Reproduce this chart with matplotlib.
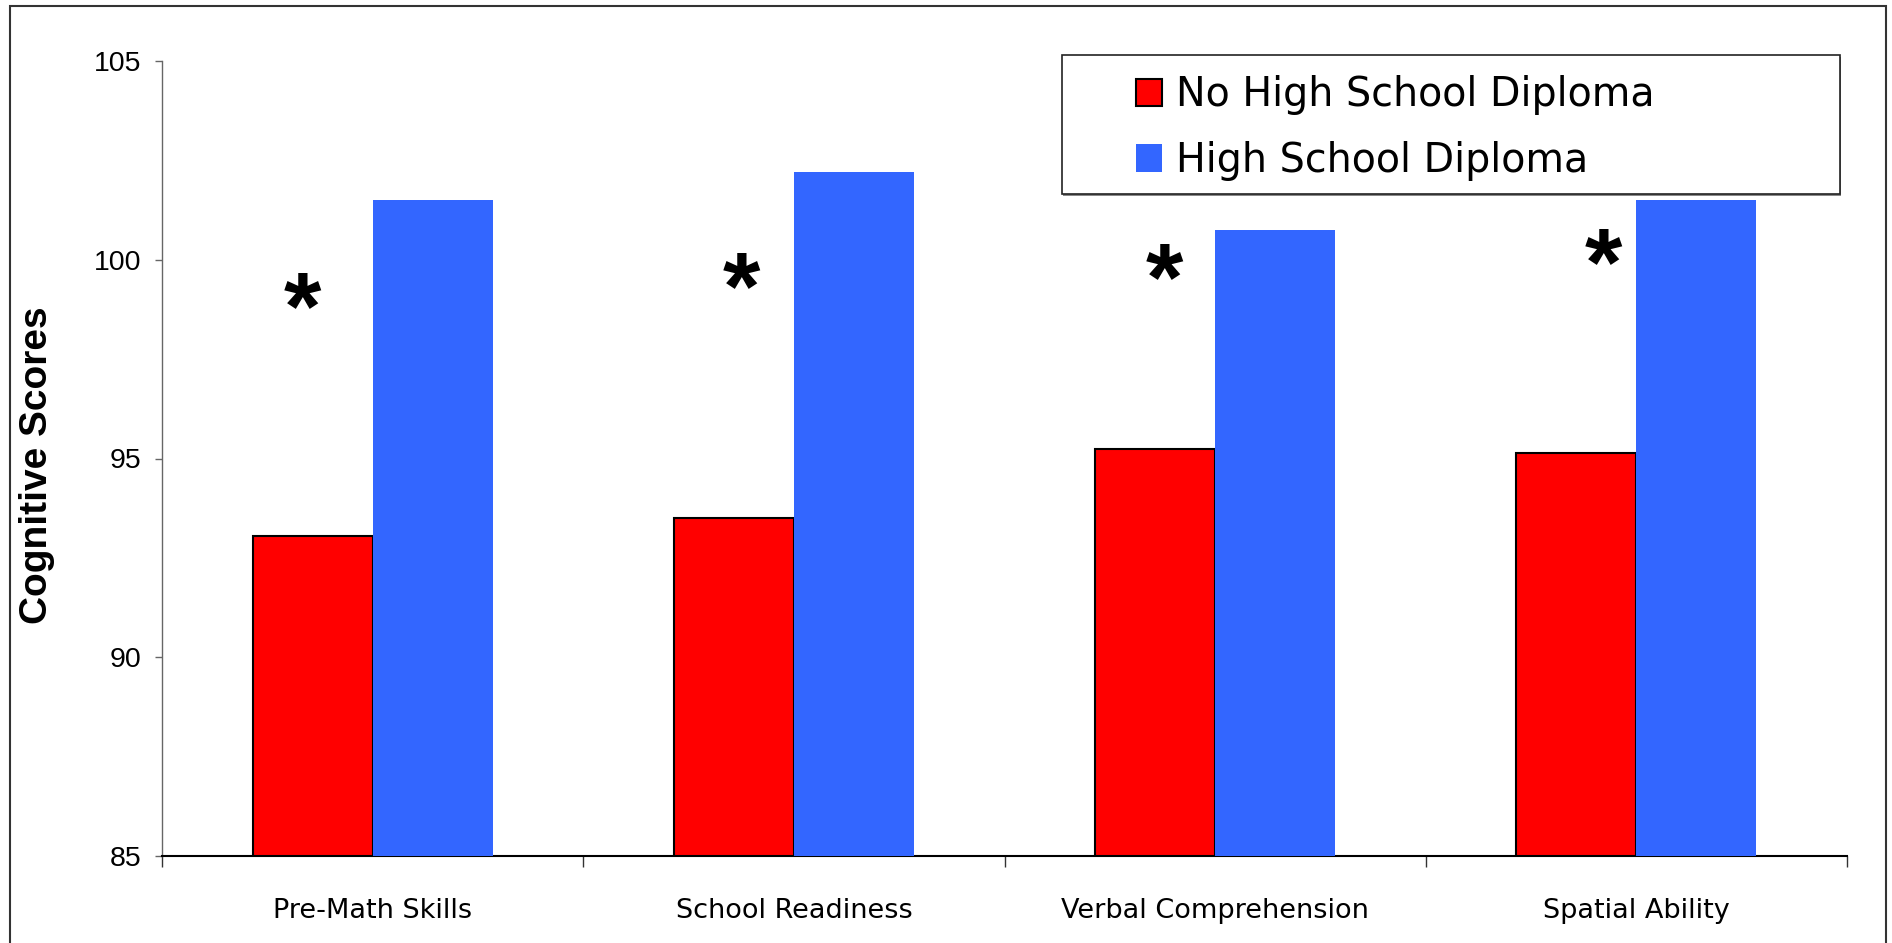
import matplotlib
matplotlib.use("Agg")
import numpy as np
from matplotlib import pyplot as plt
from matplotlib.patches import Rectangle
from matplotlib.textpath import TextPath
from matplotlib.font_manager import FontProperties

categories = ["Pre-Math Skills", "School Readiness", "Verbal Comprehension", "Spatial Ability"]
no_diploma = [93.05, 93.5, 95.25, 95.15]
diploma = [101.5, 102.2, 100.75, 101.5]
series_names = ["No High School Diploma", "High School Diploma"]

W, H = 1892, 943
fig = plt.figure(figsize=(W / 100, H / 100), dpi=100)
# axes box in pixels: left 162, right 1847, top 61, bottom 856
ax = fig.add_axes([162.3 / W, 1 - 856 / H, 1684.4 / W, 795 / H])

x = np.arange(len(categories))
w = 0.2857
ax.bar(x - w / 2, no_diploma, w, color="#FF0000", edgecolor="black", linewidth=1.5,
       label=series_names[0], zorder=2)
ax.bar(x + w / 2, diploma, w, color="#3366FF", linewidth=0, label=series_names[1], zorder=3)

ax.set_xlim(-0.5, 3.5)
ax.set_ylim(85, 105)
ax.set_yticks([85, 90, 95, 100, 105])
ax.set_xticks(np.arange(-0.5, 4, 1))
ax.set_xticklabels([])
ax.set_xticks(x, minor=True)
ax.set_xticklabels(categories, minor=True, fontsize=19.5, family="DejaVu Sans")
ax.tick_params(axis="x", which="minor", length=0, pad=30)
ax.tick_params(axis="x", which="major", length=8, width=1, color="#333333")
ax.tick_params(axis="y", length=5, width=1, color="#666666", pad=10, labelsize=20.5)
for lbl in ax.get_yticklabels():
    lbl.set_fontfamily("Liberation Sans")

for s in ["top", "right"]:
    ax.spines[s].set_visible(False)
ax.spines["left"].set_color("#666666")
ax.spines["left"].set_linewidth(1)
ax.spines["bottom"].set_color("black")
ax.spines["bottom"].set_linewidth(1.5)

ax.set_ylabel("Cognitive Scores", fontsize=28, fontweight="bold", family="Liberation Sans")
ax.yaxis.set_label_coords((55 - 162.3) / 1684.4, (856 - 465) / 795)

# significance asterisks, centred on the glyph ink
fp = FontProperties(family="Liberation Sans", weight="bold")
ext = TextPath((0, 0), "*", size=100, prop=fp).get_extents()
fs = 26.6 * 100 / ext.width
cy = (ext.y0 + ext.y1) / 2 * fs / 100
star_pos = [(-0.167, 99.24), (0.874, 99.75), (1.88, 99.97), (2.9225, 100.36)]
for sx, sy in star_pos:
    ax.annotate("*", xy=(sx, sy), xytext=(0, -cy), textcoords="offset points",
                ha="center", va="baseline", fontsize=fs, fontproperties=fp, color="black")

# legend with a wider Excel-like frame (plus a faint shadow)
shadow = Rectangle((0.5350, 0.8305), 0.4616, 0.1749, transform=ax.transAxes, facecolor="#888888",
                   edgecolor="none", clip_on=False, zorder=3.9)
ax.add_patch(shadow)
frame = Rectangle((0.5344, 0.8323), 0.4616, 0.1749, transform=ax.transAxes, facecolor="white",
                  edgecolor="#222222", linewidth=1.2, clip_on=False, zorder=4)
ax.add_patch(frame)
leg = ax.legend(loc="upper left", bbox_to_anchor=(0.571, 0.997), frameon=False,
                prop={"family": "DejaVu Sans", "size": 28.5}, handlelength=0.65,
                handleheight=0.7, handletextpad=0.35, borderpad=0.3, borderaxespad=0,
                labelspacing=0.65)
leg.set_zorder(5)

# outer border of the picture
fig.patches.append(Rectangle((10 / W, -0.1), 1876 / W, 1.1 - 6 / H, transform=fig.transFigure,
                             fill=False, edgecolor="#333333", linewidth=1.5))

fig.savefig("out.png", dpi=100)
